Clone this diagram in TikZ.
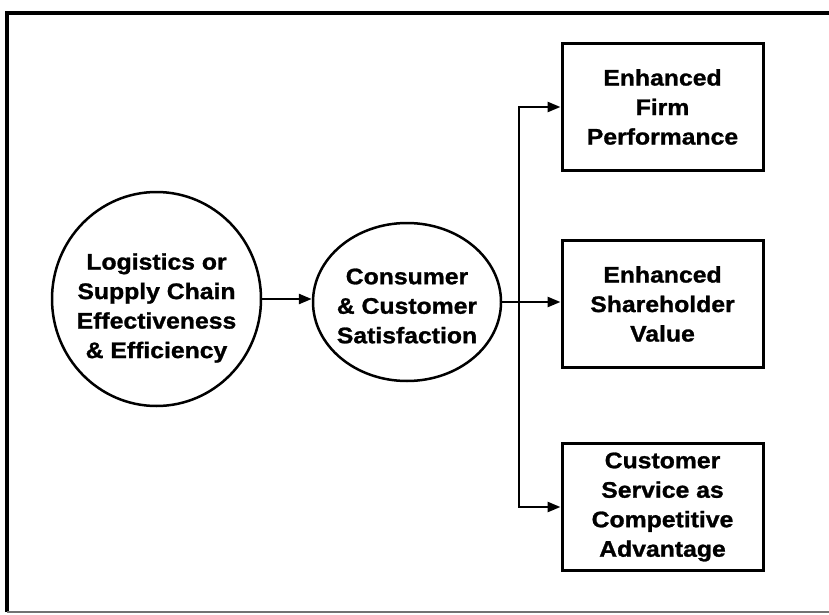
\documentclass[tikz,border=0pt]{standalone}
\usepackage{fontspec}
\setmainfont{Liberation Sans}[FakeStretch=1.1, BoldFeatures={FakeBold=1.2}]
\usetikzlibrary{shapes.geometric,arrows.meta}
\begin{document}
\begin{tikzpicture}[x=1pt,y=-1pt,
  lbl/.style={font=\bfseries\fontsize{22.5}{29.5}\selectfont, align=center, inner sep=0pt},
  oval/.style={ellipse, draw, line width=2.5pt, inner sep=0pt},
  outbox/.style={draw, line width=3pt, minimum width=201pt, minimum height=127pt, inner sep=0pt,
                 font=\bfseries\fontsize{22.5}{29.5}\selectfont, align=center},
  conn/.style={line width=2.6pt, -{Triangle[length=13pt,width=10pt]}}]
\useasboundingbox (0,0) rectangle (829,615);
\clip (0,0) rectangle (829,615);
% frame
\draw[line width=3.5pt] (7,612) -- (7,13) -- (840,13);
\draw[line width=2pt, black!55] (7,612) -- (840,612);
% ovals
\node[oval, minimum width=209pt, minimum height=214pt] (c1) at (156.5,299) {};
\node[lbl] (t1) at (156.5,308) {Logistics or\\Supply Chain\\Effectiveness\\\& Efficiency};
\node[oval, minimum width=188pt, minimum height=158pt] (c2) at (407,302) {};
\node[lbl] (t2) at (407,306) {Consumer\\\& Customer\\Satisfaction};
% boxes
\node[outbox] (b1) at (662.5,107) {Enhanced\\Firm\\Performance};
\node[outbox] (b2) at (662.5,304) {Enhanced\\Shareholder\\Value};
\node[outbox] (b3) at (662.5,507) {Customer\\Service as\\Competitive\\Advantage};
% connectors
\draw[conn] (c1.east) -- (c1.east -| c2.west);
\draw[conn] (c2.east) -- (c2.east -| b2.west);
\coordinate (j) at (519,302);
\draw[conn] (j) |- (b1.west);
\draw[conn] (j) |- (b3.west);
\end{tikzpicture}
\end{document}
